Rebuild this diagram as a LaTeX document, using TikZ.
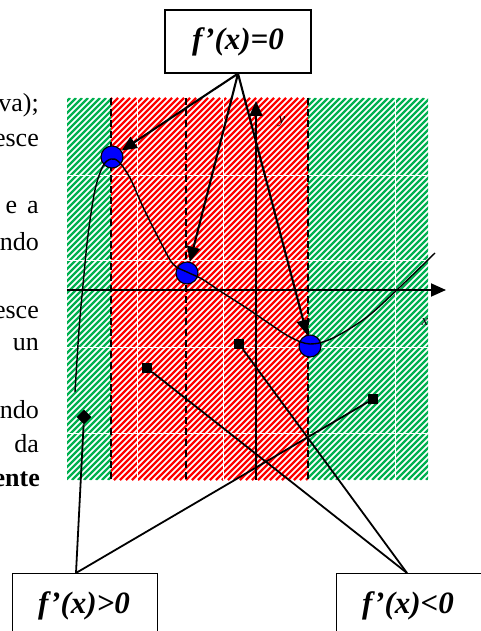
\documentclass[tikz,border=0pt]{standalone}
\usepackage{fontspec}
\setmainfont{Liberation Serif}
\usetikzlibrary{arrows.meta,shapes.geometric}
\definecolor{hgreen}{RGB}{0,176,80}
\definecolor{hred}{RGB}{255,0,0}
\definecolor{dotblue}{RGB}{0,0,255}
\tikzset{
  stripe/.style={line width=2.3pt},
  gridw/.style={white, line width=0.8pt},
  sep/.style={black, line width=1.1pt, dash pattern=on 7pt off 4pt},
  axis/.style={line width=1.9pt, -{Triangle[length=15pt,width=13pt]}},
  ptr/.style={line width=2.1pt, -{Triangle[length=15pt,width=13pt]}},
  dot/.style={circle, draw=black, line width=1.1pt, fill=dotblue, minimum size=22pt, inner sep=0pt},
  fbox/.style={draw=black, line width=1.2pt, inner sep=0pt},
  ftext/.style={font=\fontsize{31}{36}\selectfont\bfseries\itshape},
  sq/.style={rectangle, fill=black, minimum size=10pt, inner sep=0pt},
  dia/.style={diamond, fill=black, minimum size=15pt, inner sep=0pt},
  conn/.style={line width=1.8pt},
  side/.style={anchor=base east, inner sep=0pt, font=\fontsize{26}{30}\selectfont},
  curve/.style={line width=1.4pt}
}
\begin{document}
\begin{tikzpicture}[x=1pt,y=-1pt]
\useasboundingbox (0,0) rectangle (480,631);
\fill[white] (0,0) rectangle (480,631);
% hatched bands
\begin{scope}
  \clip (67,98) rectangle (111,480) (308,98) rectangle (428,480);
  \foreach \i in {-53,...,72} \draw[stripe, hgreen] ({\i*6},480) -- ({\i*6+382},98);
\end{scope}
\begin{scope}
  \clip (111,98) rectangle (308,480);
  \foreach \i in {-53,...,72} \draw[stripe, hred] ({\i*6},480) -- ({\i*6+382},98);
\end{scope}
% faint white grid
\foreach \gx in {137,223,395} \draw[gridw] (\gx,98) -- (\gx,480);
\foreach \gy in {175,260,347,433} \draw[gridw] (67,\gy) -- (428,\gy);
% dashed separators
\foreach \sx in {111,186,308} \draw[sep] (\sx,98) -- (\sx,480);
% axes
\coordinate (xs) at (67,290); \coordinate (xe) at (446,290);
\coordinate (ys) at (256,480); \coordinate (ye) at (256,101);
\draw[axis] (xs) -- (xe);
\draw[axis] (ys) -- (ye);
\node[font=\fontsize{15}{18}\selectfont\itshape] (ylab) at (282,122) {y};
\node[font=\fontsize{15}{18}\selectfont\itshape] (xlab) at (425,322) {x};
% stationary points
\node[dot] (d1) at (112,157) {};
\node[dot] (d2) at (187,273) {};
\node[dot] (d3) at (310,346) {};
% curve
\draw[curve] plot[smooth, tension=0.55] coordinates {(75,392) (79,330) (83,285) (88,235) (95,190) (103,166) (111,159) (119,162) (130,178) (143,207) (160,241) (173,264) (187,272) (202,279) (220,291) (245,307) (267,322) (290,337) (310,344) (333,338) (367,317) (400,287) (435,253)};
% boxes
\node[fbox, ftext, minimum width=146pt, minimum height=63pt] (b0) at (238,41.5) {f'(x)=0};
\node[fbox, minimum width=145pt, minimum height=67pt, anchor=north west] (bp) at (12,573) {};
\node[fbox, minimum width=146pt, minimum height=67pt, anchor=north west] (bn) at (336,573) {};
\node[ftext] (tp) at (84,606) {f'(x)>0};
\node[ftext] (tn) at (408,606) {f'(x)<0};
% arrows to stationary points
\draw[ptr] (b0.south) -- (d1);
\draw[ptr] (b0.south) -- (d2);
\draw[ptr] (b0.south) -- (d3);
% markers
\node[dia] (m1) at (84,417) {};
\node[sq] (m2) at (147,368) {};
\node[sq] (m3) at (239,344) {};
\node[sq] (m4) at (373,399) {};
\coordinate (pj) at (76,573);
\coordinate (nj) at (407,573);
\draw[conn] (pj) -- (m1);
\draw[conn] (pj) -- (m4);
\draw[conn] (nj) -- (m2);
\draw[conn] (nj) -- (m3);
% clipped text of the page at left
\node[side] (t1) at (39,112) {va);};
\node[side] (t2) at (39,147) {esce};
\node[side] (t3) at (39,213) {e\hspace{10pt}a};
\node[side] (t4) at (39,250) {ndo};
\node[side] (t5) at (39,318) {esce};
\node[side] (t6) at (39,350) {un};
\node[side] (t7) at (39,418) {ndo};
\node[side] (t8) at (39,452) {da};
\node[side, font=\fontsize{26}{30}\selectfont\bfseries] (t9) at (40,486) {ente};
\end{tikzpicture}
\end{document}
